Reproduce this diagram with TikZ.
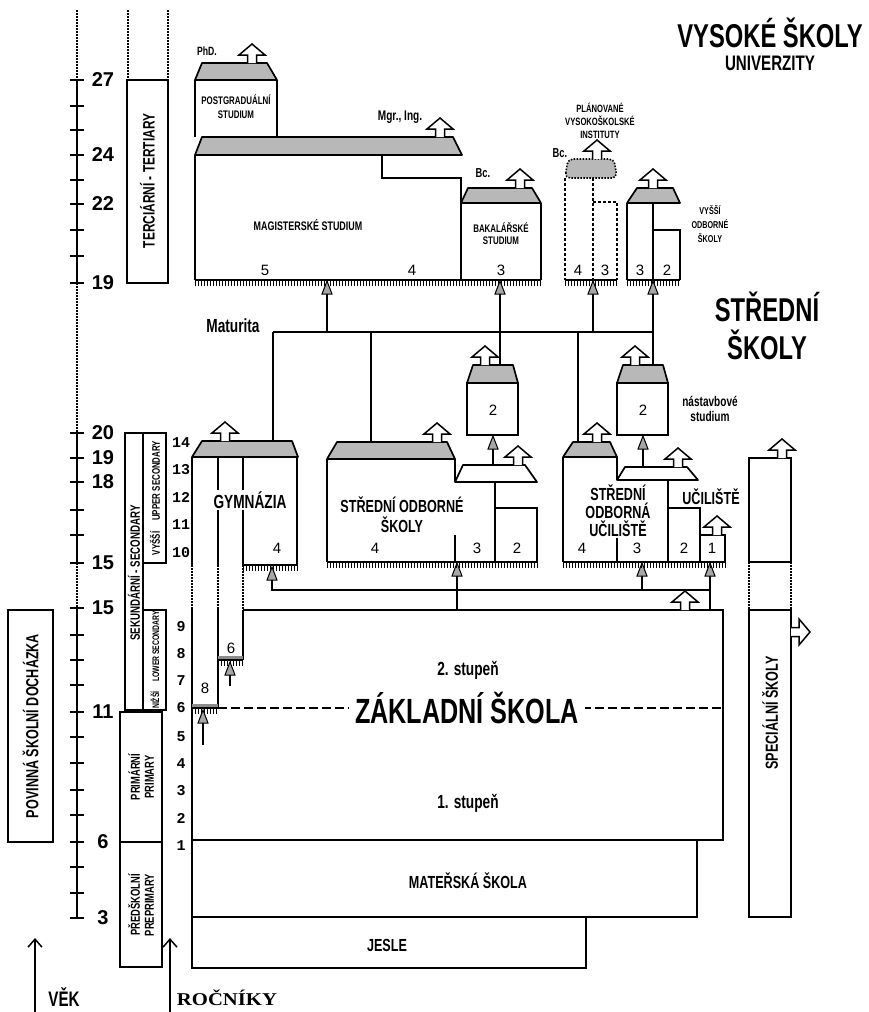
\documentclass[tikz,border=0pt]{standalone}
\usepackage{fontspec}
\setmainfont{Liberation Sans}
\newfontfamily\cnd{Liberation Sans}[FakeStretch=0.72]
\newfontfamily\slb{Liberation Mono}
\newfontfamily\srf{Liberation Serif}
\usetikzlibrary{arrows.meta}
\tikzset{
  lw/.style={line width=1.7},
  bx/.style={draw, line width=1.7},
  roof/.style={draw, line width=1.7, fill=black!28, line join=round},
  wroof/.style={draw, line width=1.7, fill=white, line join=round},
  dotl/.style={line width=1.6, dash pattern=on 1.5pt off 1.5pt},
  dsh/.style={line width=1.5, dash pattern=on 3pt off 2pt},
  tx/.style={inner sep=0, align=center, font=\cnd\bfseries\fontsize{#1}{#1}\selectfont},
  numl/.style={inner sep=0, font=\fontsize{15}{15}\selectfont},
  agelbl/.style={inner sep=0, font=\bfseries\fontsize{20}{20}\selectfont},
  grd/.style={inner sep=0, font=\slb\bfseries\fontsize{15}{15}\selectfont},
  uparrow/.pic={\draw[line width=1.5, fill=white, line join=miter] (-4.5,0) -- (-4.5,-8) -- (-13,-8) -- (0,-19) -- (13,-8) -- (4.5,-8) -- (4.5,0);},
  shead/.pic={\draw[line width=1, fill=black!35] (0,0) -- (5,13) -- (-5,13) -- cycle;},
}
\newcommand\combb[3]{%
  \pgfmathtruncatemacro\ncmb{(#2-#1)/3}%
  \foreach \ii in {0,...,\ncmb}{\draw[line width=0.9] ({#1+3*\ii},#3) -- ++(0,6);}%
  \draw[lw] (#1,#3) -- (#2,#3);}
\begin{document}
\begin{tikzpicture}[x=1pt,y=-1pt]
\useasboundingbox (0,0) rectangle (869,1012);

% ---------- titles
\node[tx=33] (vs) at (770,33) {VYSOKÉ ŠKOLY};
\node[tx=21] (univ) at (770,63) {UNIVERZITY};
\node[tx=33] (ss1) at (767,307) {STŘEDNÍ};
\node[tx=33] (ss2) at (767,345) {ŠKOLY};

% ---------- age axis
\draw[dotl] (77,10) -- (77,80);
\draw[bx] (77,80) -- (77,283);
\draw[dotl] (77,283) -- (77,433);
\draw[bx] (77,433) -- (77,563);
\draw[dotl] (77,563) -- (77,608);
\draw[bx] (77,608) -- (77,918);
\foreach \t in {80,106,130,155,180,204,230,256,283,433,458,482,510,535,563,608,635,660,685,712,737,763,790,815,842,867,893,918}
  \draw[line width=1.5] (70,\t) -- (84,\t);
\foreach \t/\v in {80/27,155/24,204/22,283/19,433/20,458/19,482/18,563/15,608/15,712/11,842/6,918/3}
  \node[agelbl] (a\t) at (103,\t) {\v};

% ---------- level boxes (left)
\draw[dotl] (128,10) -- (128,80);
\draw[dotl] (168,10) -- (168,80);
\draw[bx] (127,80) rectangle (168,283);
\node[tx=16.5, rotate=90] (terc) at (147.5,181) {TERCIÁRNÍ - TERTIARY};

\draw[bx] (125,433) rectangle (143,710);
\draw[bx] (143,433) rectangle (166,563);
\draw[bx] (143,610) rectangle (166,710);
\node[tx=13.5, rotate=90] (sek) at (134,573) {SEKUNDÁRNÍ - SECONDARY};
\node[tx=11, rotate=90] (vysl) at (155,498) {VYŠŠÍ\quad UPPER SECONDARY};
\node[tx=9.5, rotate=90] (nizl) at (155,660) {NIŽŠÍ\quad LOWER SECONDARY};

\draw[bx] (120,712) rectangle (162,842);
\node[tx=13, rotate=90] (prim) at (141,777) {PRIMÁRNÍ\\[1pt]PRIMARY};
\draw[bx] (120,842) rectangle (162,967);
\node[tx=13, rotate=90] (pre) at (141,905) {PŘEDŠKOLNÍ\\[1pt]PREPRIMARY};

\draw[bx] (8,610) rectangle (53,842);
\node[tx=17.5, rotate=90] (pov) at (30.5,726) {POVINNÁ ŠKOLNÍ DOCHÁZKA};

% ---------- axis arrows
\coordinate (vekA) at (35,1012); \coordinate (vekB) at (35,938);
\draw[line width=1.5, -{Straight Barb[length=8pt,width=14pt]}] (vekA) -- (vekB);
\node[tx=21] (vek) at (64,997) {VĚK};
\coordinate (rocA) at (170,1012); \coordinate (rocB) at (170,938);
\draw[line width=1.5, -{Straight Barb[length=8pt,width=14pt]}] (rocA) -- (rocB);
\node[font=\srf\bfseries\fontsize{18}{18}\selectfont, xscale=1.15, inner sep=0] (roc) at (227,998) {ROČNÍKY};

\foreach \t/\v in {443/14,470/13,497/12,525/11,553/10,627/9,654/8,681/7,708/6,737/5,764/4,791/3,818/2,846/1}
  \node[grd] (g\v) at (181,\t) {\v};

% ---------- universities
\node[tx=12] (phd) at (207,51) {PhD.};
\draw[roof] (195,80) -- (202,63) -- (267,63) -- (277,80) -- cycle;
\pic at (252,63) {uparrow};
\draw[bx] (195,80) -- (195,137) (277,80) -- (277,137);
\node[tx=11] (pg) at (236,107) {POSTGRADUÁLNÍ\\[3pt]STUDIUM};
\draw[roof] (195,155) -- (202,137) -- (453,137) -- (462,155) -- cycle;
\pic at (440,137) {uparrow};
\node[tx=14] (mgr) at (400,117) {Mgr., Ing.};
\draw[bx] (195,155) -- (195,280);
\draw[bx] (382,155) -- (382,178) -- (461,178) -- (461,280);
\node[tx=12.4] (mag) at (308,225) {MAGISTERSKÉ STUDIUM};
\node[numl] (m5) at (265,270) {5};
\node[numl] (m4) at (412,270) {4};

\node[tx=13] (bc1) at (483,173) {Bc.};
\draw[roof] (461,203) -- (468,188) -- (532,188) -- (541,203) -- cycle;
\pic at (520,188) {uparrow};
\draw[bx] (541,203) -- (541,280);
\node[tx=11] (bak) at (501,234) {BAKALÁŘSKÉ\\[1pt]STUDIUM};
\node[numl] (b3) at (501,270) {3};
\combb{195}{541}{280}

\node[tx=10.6] (plan) at (600,121) {PLÁNOVANÉ\\[2.4pt]VYSOKOŠKOLSKÉ\\[2.4pt]INSTITUTY};
\node[tx=13] (bc2) at (560,153) {Bc.};
\draw[dotl, fill=black!28, rounded corners=5] (565,178) -- (568,159) -- (614,159) -- (617,178) -- cycle;
\pic at (597,159) {uparrow};
\draw[dsh] (565,178) -- (565,280);
\draw[dsh] (593,178) -- (593,280);
\draw[dsh] (593,202) -- (617,202) -- (617,280);
\combb{565}{617}{280}
\node[numl] (p4) at (578,270) {4};
\node[numl] (p3) at (605,270) {3};

\draw[roof] (627,203) -- (637,188) -- (673,188) -- (680,203) -- cycle;
\pic at (653,188) {uparrow};
\draw[bx] (627,203) -- (627,280);
\draw[bx] (653,203) -- (653,280);
\draw[bx] (653,230) -- (680,230) -- (680,280);
\combb{627}{680}{280}
\node[numl] (v3) at (640,270) {3};
\node[numl] (v2) at (667,270) {2};
\node[tx=10] (vos) at (710,224) {VYŠŠÍ\\[4pt]ODBORNÉ\\[4pt]ŠKOLY};

% ---------- Maturita connectors
\draw[lw] (327,294) -- (327,332);
\draw[lw] (500,294) -- (500,365);
\draw[lw] (593,294) -- (593,332);
\draw[lw] (653,294) -- (653,365);
\foreach \xx in {327,500,593,653} \pic at (\xx,281) {shead};
\draw[lw] (273,332) -- (653,332);
\node[tx=19] (mat) at (233,326) {Maturita};
\draw[lw] (273,332) -- (273,441);
\draw[lw] (371,332) -- (371,442);
\draw[lw] (578,332) -- (578,442);

% ---------- nastavbove
\draw[roof] (467,383) -- (473,365) -- (513,365) -- (518,383) -- cycle;
\draw[bx] (467,383) rectangle (518,435);
\pic at (485,365) {uparrow};
\node[numl] (n1) at (493,410) {2};
\draw[roof] (617,383) -- (623,365) -- (663,365) -- (668,383) -- cycle;
\draw[bx] (617,383) rectangle (668,435);
\pic at (635,365) {uparrow};
\node[numl] (n2) at (643,410) {2};
\node[tx=14] (nast) at (710,409) {nástavbové\\[1pt]studium};

% ---------- gymnazia
\draw[roof] (192,457) -- (202,441) -- (292,441) -- (298,457) -- cycle;
\pic at (225,441) {uparrow};
\draw[bx] (192,457) -- (192,565); \draw[dotl] (192,565) -- (192,608); \draw[bx] (192,608) -- (192,840);
\draw[bx] (218,457) -- (218,565); \draw[dotl] (218,565) -- (218,608); \draw[bx] (218,608) -- (218,708);
\draw[bx] (243,457) -- (243,565); \draw[dotl] (243,565) -- (243,610); \draw[bx] (243,610) -- (243,660);
\draw[bx] (297,457) -- (297,565);
\combb{243}{297}{565}
\node[tx=19, fill=white, inner sep=1.5] (gym) at (250,500) {GYMNÁZIA};
\node[numl] (gy4) at (277,548) {4};
\node[numl] (gy6) at (231,648) {6};
\node[numl] (gy8) at (205,688) {8};
\fill[black!45] (218,656) rectangle (243,660);
\combb{218}{243}{660}
\fill[black!45] (192,704) rectangle (218,708);
\combb{192}{218}{708}
\draw[lw] (230,675) -- (230,686);
\pic at (230,662) {shead};
\draw[lw] (203,723) -- (203,745);
\pic at (203,710) {shead};

% ---------- links from ZS
\draw[lw] (272,580) -- (272,590) -- (710,590);
\pic at (272,567) {shead};
\draw[lw] (457,575) -- (457,610);
\pic at (457,563) {shead};
\draw[lw] (642,575) -- (642,590);
\pic at (642,563) {shead};
\draw[lw] (710,575) -- (710,610);
\pic at (710,563) {shead};

% ---------- zakladni skola
\draw[bx] (243,610) -- (723,610) -- (723,840) -- (192,840);
\draw[line width=1.3, dash pattern=on 9pt off 4pt] (218,708) -- (723,708);
\node[tx=35, fill=white, inner xsep=6, inner ysep=0] (zs) at (467,708) {ZÁKLADNÍ ŠKOLA};
\node[tx=19] (st2) at (468,670) {2. stupeň};
\node[tx=19] (st1) at (468,803) {1. stupeň};
\pic at (685,610) {uparrow};

\draw[bx] (192,840) -- (192,917) -- (697,917) -- (697,840);
\node[tx=17.5] (ms) at (468,881) {MATEŘSKÁ ŠKOLA};
\draw[bx] (192,917) -- (192,968) -- (586,968) -- (586,917);
\node[tx=17.5] (jes) at (387,945) {JESLE};

% ---------- SOS
\draw[roof] (327,459) -- (337,442) -- (447,442) -- (455,459) -- cycle;
\pic at (437,442) {uparrow};
\draw[bx] (327,459) -- (327,562);
\draw[bx] (455,459) -- (455,482);
\draw[wroof] (455,482) -- (463,465) -- (525,465) -- (537,482) -- cycle;
\pic at (518,465) {uparrow};
\draw[bx] (455,535) -- (455,562);
\draw[bx] (495,482) -- (495,562);
\draw[bx] (495,508) -- (537,508) -- (537,562);
\combb{327}{537}{562}
\node[tx=17.5] (sos) at (402,515) {STŘEDNÍ ODBORNÉ\\[2.5pt]ŠKOLY};
\node[numl] (s4) at (375,548) {4};
\node[numl] (s3) at (477,548) {3};
\node[numl] (s2) at (517,548) {2};
\draw[lw] (493,449) -- (493,465);
\pic at (493,436) {shead};

% ---------- SOU
\draw[roof] (563,457) -- (573,442) -- (610,442) -- (617,457) -- cycle;
\pic at (597,442) {uparrow};
\draw[bx] (563,457) -- (563,562);
\draw[bx] (617,457) -- (617,480);
\draw[wroof] (617,480) -- (625,467) -- (687,467) -- (698,480) -- cycle;
\pic at (678,467) {uparrow};
\draw[bx] (617,538) -- (617,562);
\draw[bx] (668,480) -- (668,562);
\draw[bx] (668,508) -- (700,508) -- (700,562);
\draw[bx] (700,535) -- (725,535) -- (725,562);
\pic at (717,535) {uparrow};
\combb{563}{725}{562}
\node[tx=17.5] (sou) at (618,511) {STŘEDNÍ\\[0.5pt]ODBORNÁ\\[0.5pt]UČILIŠTĚ};
\node[tx=17.5] (uc) at (711,497) {UČILIŠTĚ};
\node[numl] (u4) at (582,548) {4};
\node[numl] (u3) at (637,548) {3};
\node[numl] (u2) at (684,548) {2};
\node[numl] (u1) at (712,548) {1};
\draw[lw] (643,449) -- (643,467);
\pic at (643,436) {shead};

% ---------- special schools
\draw[bx] (749,458) rectangle (791,562);
\pic at (782,458) {uparrow};
\draw[dotl] (749,562) -- (749,610);
\draw[dotl] (791,562) -- (791,610);
\draw[bx] (749,610) rectangle (791,917);
\node[tx=17.5, rotate=90] (spec) at (770,713) {SPECIÁLNÍ ŠKOLY};
\pic[rotate=-90] at (791,632) {uparrow};
\end{tikzpicture}
\end{document}
